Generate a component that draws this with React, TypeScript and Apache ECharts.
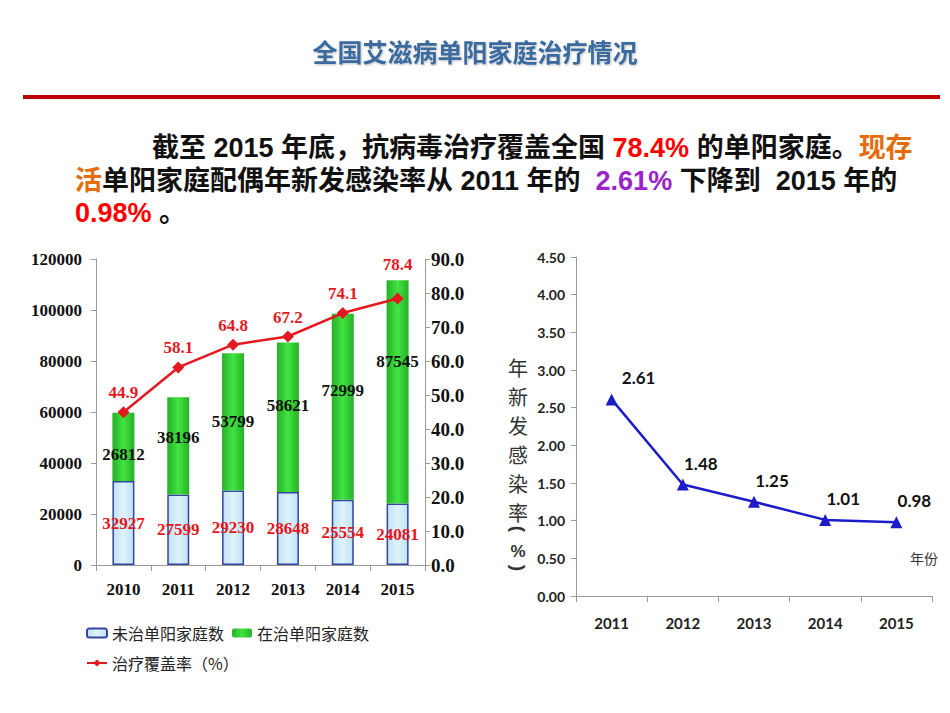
import React, { useEffect, useRef } from "react";
import * as echarts from "echarts";

// Left chart: serodiscordant families by treatment status, and treatment coverage
const years = ["2010", "2011", "2012", "2013", "2014", "2015"];
const untreatedFamilies = [32927, 27599, 29230, 28648, 25554, 24081];
const treatedFamilies = [26812, 38196, 53799, 58621, 72999, 87545];
const coverageRate = [44.9, 58.1, 64.8, 67.2, 74.1, 78.4];

// Right chart: annual new infection rate among spouses
const incidenceYears = ["2011", "2012", "2013", "2014", "2015"];
const incidenceRate = [2.61, 1.48, 1.25, 1.01, 0.98];

const seriesNames = ["未治单阳家庭数", "在治单阳家庭数", "治疗覆盖率（%）"];

const SERIF = "'Liberation Serif', 'Times New Roman', serif";
const SANS_CJK = "'Liberation Sans', 'Noto Sans CJK SC', sans-serif";
const NUM_SANS = "Lato, 'Noto Sans', sans-serif";

export default function App() {
  const ref = useRef<HTMLDivElement>(null);

  useEffect(() => {
    document.body.style.margin = "0";
    const chart = echarts.init(ref.current!, null, { renderer: "svg" });

    const axisGray = "#9a9a9a";
    const serifLabel = {
      fontFamily: SERIF,
      fontWeight: "bold",
      fontSize: 17,
      color: "#111",
    };

    const para = {
      k: { fontFamily: SANS_CJK, fontWeight: "bold", fontSize: 27, fill: "#111", color: "#111" },
      r: { fontFamily: SANS_CJK, fontWeight: "bold", fontSize: 27, fill: "#ff0000", color: "#ff0000" },
      o: { fontFamily: SANS_CJK, fontWeight: "bold", fontSize: 27, fill: "#e46c0a", color: "#e46c0a" },
      p: { fontFamily: SANS_CJK, fontWeight: "bold", fontSize: 27, fill: "#9a24c8", color: "#9a24c8" },
    };

    // vertical nudges of the in-bar labels of treated families
    const treatedLabelNudge = [8, -8, 0, -12, -16, -30];
    const lastCoverage = coverageRate.length - 1;

    chart.setOption({
      animation: false,
      backgroundColor: "#ffffff",
      graphic: [
        {
          type: "text",
          x: 475,
          y: 51,
          style: {
            text: "全国艾滋病单阳家庭治疗情况",
            fontFamily: "'Noto Sans CJK SC', sans-serif",
            fontWeight: "bold",
            fontSize: 25,
            fill: "#3b6a9e",
            align: "center",
            verticalAlign: "middle",
            textShadowColor: "rgba(0,0,0,0.25)",
            textShadowBlur: 2,
            textShadowOffsetX: 1,
            textShadowOffsetY: 1,
          },
        },
        {
          type: "rect",
          shape: { x: 23, y: 95, width: 917, height: 4 },
          style: { fill: "#c00000" },
        },
        {
          type: "text",
          x: 152,
          y: 148,
          style: {
            text: "{k|截至 2015 年底，抗病毒治疗覆盖全国 }{r|78.4%}{k| 的单阳家庭。}{o|现存}",
            verticalAlign: "middle",
            rich: para,
          },
        },
        {
          type: "text",
          x: 75,
          y: 181,
          style: {
            text: "{o|活}{k|单阳家庭配偶年新发感染率从 2011 年的  }{p|2.61%}{k| 下降到  2015 年的}",
            verticalAlign: "middle",
            rich: para,
          },
        },
        {
          type: "text",
          x: 75,
          y: 213,
          style: {
            text: "{r|0.98%}{k| 。}",
            verticalAlign: "middle",
            rich: para,
          },
        },
        // vertical axis name of the right chart
        {
          type: "text",
          x: 518,
          y: 353,
          style: {
            text: "年\n新\n发\n感\n染\n率",
            fontFamily: "'Noto Sans CJK SC', sans-serif",
            fontSize: 20,
            lineHeight: 29,
            fill: "#333",
            align: "center",
            verticalAlign: "top",
          },
        },
        {
          type: "text",
          x: 518,
          y: 529,
          rotation: -Math.PI / 2,
          style: {
            text: "(",
            fontFamily: "'Liberation Sans', sans-serif",
            fontWeight: "bold",
            fontSize: 19,
            fill: "#333",
            align: "center",
            verticalAlign: "middle",
          },
        },
        {
          type: "text",
          x: 518,
          y: 551,
          style: {
            text: "%",
            fontFamily: "'Liberation Sans', sans-serif",
            fontWeight: "bold",
            fontSize: 17,
            fill: "#333",
            align: "center",
            verticalAlign: "middle",
          },
        },
        {
          type: "text",
          x: 518,
          y: 568,
          rotation: -Math.PI / 2,
          style: {
            text: ")",
            fontFamily: "'Liberation Sans', sans-serif",
            fontWeight: "bold",
            fontSize: 19,
            fill: "#333",
            align: "center",
            verticalAlign: "middle",
          },
        },
        {
          type: "text",
          x: 924,
          y: 558,
          style: {
            text: "年份",
            fontFamily: "'Noto Sans CJK SC', sans-serif",
            fontSize: 14,
            fill: "#333",
            align: "center",
            verticalAlign: "middle",
          },
        },
      ],
      legend: {
        data: seriesNames,
        left: 81,
        top: 617,
        width: 300,
        itemWidth: 20,
        itemHeight: 9,
        itemGap: 8,
        textStyle: {
          fontFamily: "'Noto Sans CJK SC', sans-serif",
          fontSize: 16,
          lineHeight: 22,
          color: "#222",
        },
      },
      grid: [
        { left: 96, top: 259, width: 329, height: 306, containLabel: false },
        { left: 576, top: 257, width: 356, height: 339, containLabel: false },
      ],
      xAxis: [
        {
          type: "category",
          gridIndex: 0,
          data: years,
          axisLine: { lineStyle: { color: axisGray, width: 1 } },
          axisTick: { show: true, length: 6, lineStyle: { color: axisGray } },
          axisLabel: { ...serifLabel, margin: 16 },
        },
        {
          type: "category",
          gridIndex: 1,
          data: incidenceYears,
          axisLine: { lineStyle: { color: axisGray, width: 1 } },
          axisTick: { show: true, length: 6, lineStyle: { color: axisGray } },
          axisLabel: {
            fontFamily: NUM_SANS,
            fontWeight: "bold",
            fontSize: 15,
            color: "#222",
            margin: 19,
          },
        },
      ],
      yAxis: [
        {
          type: "value",
          gridIndex: 0,
          min: 0,
          max: 120000,
          interval: 20000,
          axisLine: { show: true, lineStyle: { color: axisGray } },
          axisTick: { show: true, length: 5, lineStyle: { color: axisGray } },
          splitLine: { show: false },
          axisLabel: { ...serifLabel, margin: 14, formatter: (v: number) => String(v) },
        },
        {
          type: "value",
          gridIndex: 0,
          position: "right",
          min: 0,
          max: 90,
          interval: 10,
          axisLine: { show: true, lineStyle: { color: axisGray } },
          axisTick: { show: true, length: 5, lineStyle: { color: axisGray } },
          splitLine: { show: false },
          axisLabel: {
            ...serifLabel,
            fontSize: 19,
            margin: 6,
            formatter: (v: number) => v.toFixed(1),
          },
        },
        {
          type: "value",
          gridIndex: 1,
          min: 0,
          max: 4.5,
          interval: 0.5,
          axisLine: { show: true, lineStyle: { color: axisGray } },
          axisTick: { show: true, length: 5, lineStyle: { color: axisGray } },
          splitLine: { show: false },
          axisLabel: {
            fontFamily: NUM_SANS,
            fontWeight: "bold",
            fontSize: 14,
            color: "#222",
            margin: 11,
            formatter: (v: number) => v.toFixed(2),
          },
        },
      ],
      series: [
        {
          name: seriesNames[0],
          type: "bar",
          xAxisIndex: 0,
          yAxisIndex: 0,
          stack: "families",
          barWidth: 22,
          data: untreatedFamilies,
          itemStyle: {
            color: new echarts.graphic.LinearGradient(0, 0, 1, 0, [
              { offset: 0, color: "#bfe2f2" },
              { offset: 0.5, color: "#def3fb" },
              { offset: 1, color: "#bfe2f2" },
            ]),
            borderColor: "#34449f",
            borderWidth: 1.5,
          },
          label: {
            show: true,
            position: "inside",
            ...serifLabel,
            color: "#e8141b",
          },
        },
        {
          name: seriesNames[1],
          type: "bar",
          xAxisIndex: 0,
          yAxisIndex: 0,
          stack: "families",
          barWidth: 22,
          data: treatedFamilies.map((v, i) => ({
            value: v,
            label: { offset: [0, treatedLabelNudge[i]] },
          })),
          itemStyle: {
            color: new echarts.graphic.LinearGradient(0, 0, 1, 0, [
              { offset: 0, color: "#26b026" },
              { offset: 0.5, color: "#42e442" },
              { offset: 1, color: "#26b026" },
            ]),
          },
          label: {
            show: true,
            position: "inside",
            ...serifLabel,
          },
        },
        {
          name: seriesNames[2],
          type: "line",
          xAxisIndex: 0,
          yAxisIndex: 1,
          data: coverageRate.map((v, i) =>
            i === lastCoverage ? { value: v, label: { distance: 19 } } : v
          ),
          symbol: "diamond",
          symbolSize: 12,
          lineStyle: { color: "#e3191f", width: 2.5 },
          itemStyle: { color: "#e3191f" },
          label: {
            show: true,
            position: "top",
            ...serifLabel,
            color: "#e3191f",
            formatter: (p: any) => Number(p.value).toFixed(1),
          },
        },
        {
          name: "年新发感染率",
          type: "line",
          xAxisIndex: 1,
          yAxisIndex: 2,
          data: incidenceRate.map((v, i) =>
            i === 0 ? { value: v, label: { offset: [27, -2] } } : v
          ),
          symbol: "triangle",
          symbolSize: 12,
          lineStyle: { color: "#1c1cc8", width: 2.5 },
          itemStyle: { color: "#1c1cc8" },
          label: {
            show: true,
            position: "top",
            offset: [18, -2],
            fontFamily: NUM_SANS,
            fontWeight: "bold",
            fontSize: 17,
            color: "#111",
            formatter: (p: any) => Number(p.value).toFixed(2),
          },
        },
      ],
    });

    return () => chart.dispose();
  }, []);

  return <div ref={ref} style={{ width: 950, height: 713 }} />;
}
